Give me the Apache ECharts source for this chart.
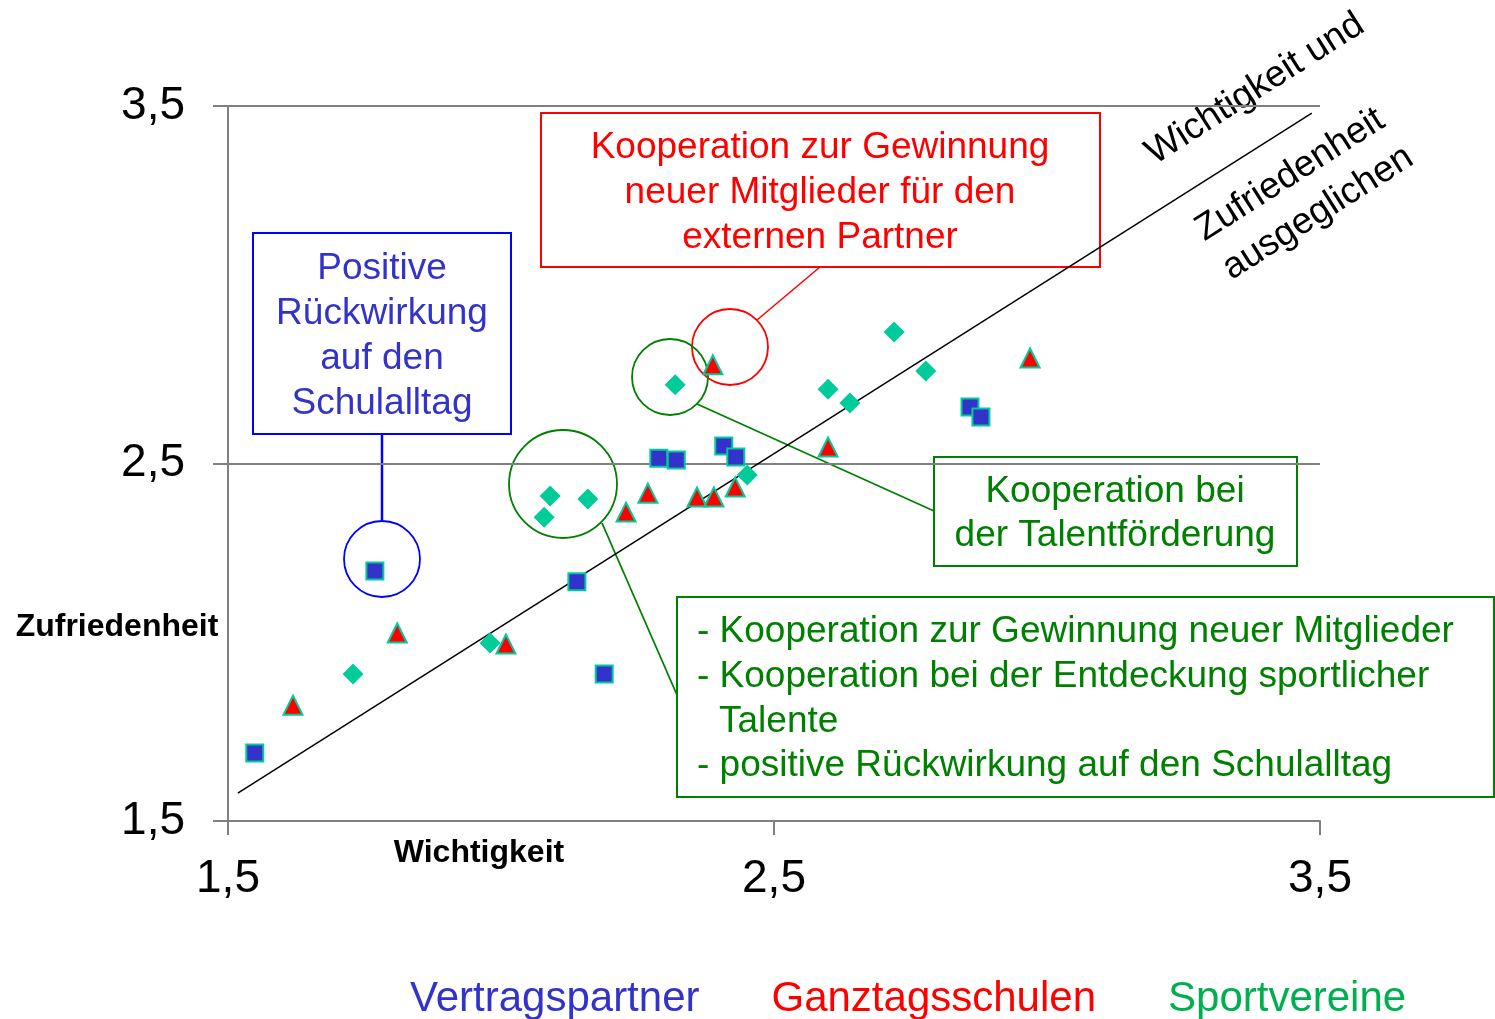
<!DOCTYPE html>
<html>
<head>
<meta charset="utf-8">
<script src="https://cdn.jsdelivr.net/npm/echarts@6/dist/echarts.min.js"></script>
<style>html,body{margin:0;padding:0;background:#fff;}#c{width:1495px;height:1019px;}</style>
</head>
<body>
<div id="c"></div>
<script>
// ---- data ----
const seriesNames = ['Vertragspartner', 'Ganztagsschulen', 'Sportvereine'];
const vertragspartner = [[1.549,1.690],[1.769,2.199],[2.139,2.169],[2.189,1.911],[2.289,2.515],[2.321,2.510],[2.408,2.549],[2.430,2.518],[2.859,2.658],[2.879,2.630]];
const ganztagsschulen = [[1.619,1.824],[1.810,2.026],[2.009,1.995],[2.229,2.364],[2.269,2.417],[2.359,2.406],[2.390,2.406],[2.429,2.434],[2.388,2.776],[2.599,2.546],[2.969,2.795]];
const sportvereine = [[1.729,1.911],[1.980,1.998],[2.079,2.350],[2.090,2.409],[2.159,2.401],[2.319,2.720],[2.451,2.468],[2.599,2.708],[2.639,2.669],[2.720,2.868],[2.778,2.759]];
const balanceLine = [[1.518,1.578],[3.485,3.480]];
const axisMin = 1.5, axisMax = 3.5, axisStep = 1;
const xAxisName = 'Wichtigkeit';
const yAxisName = 'Zufriedenheit';

const FONT = "'Liberation Sans', Arial, sans-serif";
const BLUE = '#3333cc', RED = '#ff0000', GREEN = '#008000', TEAL = '#00cc99', LGREEN = '#00b050';
const fmt = v => String(v).replace('.', ',');

const chart = echarts.init(document.getElementById('c'));
const txt = (x, y, text, color, size, extra) => ({
  type: 'text', x: x, y: y + 2,
  style: Object.assign({ text: text, fill: color, fontSize: size, fontFamily: FONT, align: 'center', verticalAlign: 'middle' }, extra || {})
});
const rect = (x, y, w, h, color) => ({ type: 'rect', shape: { x: x, y: y, width: w, height: h }, style: { fill: 'none', stroke: color, lineWidth: 2 } });
const circ = (cx, cy, r, color) => ({ type: 'circle', shape: { cx: cx, cy: cy, r: r }, style: { fill: 'none', stroke: color, lineWidth: 1.8 } });
const seg = (x1, y1, x2, y2, color, w) => ({ type: 'line', shape: { x1: x1, y1: y1, x2: x2, y2: y2 }, style: { stroke: color, lineWidth: w || 1.8 } });

const rot = 32.5 * Math.PI / 180;
const rtxt = (x, y, text) => ({ type: 'text', x: x, y: y, rotation: rot,
  style: { text: text, fill: '#000', fontSize: 37, fontFamily: FONT, align: 'center', verticalAlign: 'middle' } });

chart.setOption({
  animation: false,
  backgroundColor: '#fff',
  grid: { left: 228, right: 175, top: 106, bottom: 198, containLabel: false },
  legend: {
    left: 400, top: 973, icon: 'none', itemWidth: 0, itemHeight: 0, itemGap: 67, selectedMode: false,
    data: [
      { name: seriesNames[0], textStyle: { color: BLUE } },
      { name: seriesNames[1], textStyle: { color: RED } },
      { name: seriesNames[2], textStyle: { color: LGREEN } }
    ],
    textStyle: { fontSize: 42, fontFamily: FONT, padding: 0 }
  },
  xAxis: {
    type: 'value', min: axisMin, max: axisMax, interval: axisStep,
    axisLine: { show: true, onZero: false, lineStyle: { color: '#808080', width: 2 } },
    axisTick: { show: true, length: 14, lineStyle: { color: '#808080', width: 2 } },
    axisLabel: { margin: 35, fontSize: 46, color: '#000', fontFamily: FONT, formatter: fmt },
    splitLine: { show: false }
  },
  yAxis: {
    type: 'value', min: axisMin, max: axisMax, interval: axisStep,
    axisLine: { show: true, onZero: false, lineStyle: { color: '#808080', width: 2 } },
    axisTick: { show: true, length: 15, lineStyle: { color: '#808080', width: 2 } },
    axisLabel: { margin: 43, fontSize: 46, color: '#000', fontFamily: FONT, formatter: fmt },
    splitLine: { show: true, lineStyle: { color: '#808080', width: 2 } }
  },
  series: [
    { type: 'line', data: balanceLine, symbol: 'none', lineStyle: { color: '#000', width: 1.5 }, silent: true, z: 1 },
    { name: seriesNames[2], type: 'scatter', data: sportvereine, symbol: 'diamond', symbolSize: 21,
      itemStyle: { color: TEAL, opacity: 1 }, z: 3 },
    { name: seriesNames[1], type: 'scatter', data: ganztagsschulen, symbol: 'triangle', symbolSize: 19,
      itemStyle: { color: RED, borderColor: TEAL, borderWidth: 2, opacity: 1 }, z: 4 },
    { name: seriesNames[0], type: 'scatter', data: vertragspartner, symbol: 'rect', symbolSize: 17,
      itemStyle: { color: BLUE, borderColor: TEAL, borderWidth: 2, opacity: 1 }, z: 5 }
  ],
  graphic: [
    // axis names
    txt(117, 625, yAxisName, '#000', 32, { fontWeight: 'bold' }),
    txt(479, 851, xAxisName, '#000', 32, { fontWeight: 'bold' }),
    // diagonal labels
    rtxt(1255, 89, 'Wichtigkeit und'),
    rtxt(1290, 175, 'Zufriedenheit'),
    rtxt(1318, 213, 'ausgeglichen'),
    // red annotation
    rect(541, 113, 559, 154, RED),
    txt(820, 146, 'Kooperation zur Gewinnung', RED, 37),
    txt(820, 191, 'neuer Mitglieder für den', RED, 37),
    txt(820, 236, 'externen Partner', RED, 37),
    seg(820, 267, 757, 320, RED, 1.5),
    circ(730, 347, 38, RED),
    // blue annotation
    rect(253, 233, 258, 201, '#0000ff'),
    txt(382, 267, 'Positive', BLUE, 37),
    txt(382, 312, 'Rückwirkung', BLUE, 37),
    txt(382, 357, 'auf den', BLUE, 37),
    txt(382, 402, 'Schulalltag', BLUE, 37),
    seg(382, 434, 382, 520, '#0000ff', 2.5),
    circ(382, 559, 38, '#0000ff'),
    // green annotation 1
    circ(670, 377, 38, GREEN),
    seg(697, 404, 934, 511, GREEN, 1.8),
    rect(934, 457, 363, 109, GREEN),
    txt(1115, 490, 'Kooperation bei', GREEN, 37),
    txt(1115, 534, 'der Talentförderung', GREEN, 37),
    // green annotation 2
    circ(563, 484, 54, GREEN),
    seg(602, 523, 677, 695, GREEN, 1.8),
    rect(677, 597, 817, 200, GREEN),
    txt(697, 630, '- Kooperation zur Gewinnung neuer Mitglieder', GREEN, 37, { align: 'left' }),
    txt(697, 675, '- Kooperation bei der Entdeckung sportlicher', GREEN, 37, { align: 'left' }),
    txt(719, 720, 'Talente', GREEN, 37, { align: 'left' }),
    txt(697, 764, '- positive Rückwirkung auf den Schulalltag', GREEN, 37, { align: 'left' })
  ]
});
</script>
</body>
</html>
